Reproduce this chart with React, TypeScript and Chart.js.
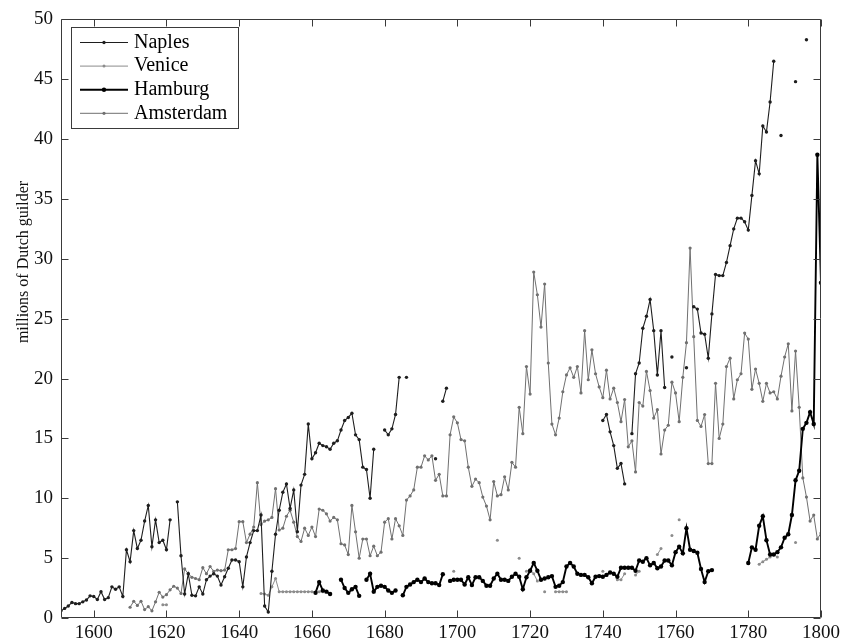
import { useEffect, useRef } from 'react';
import { Chart, registerables } from 'chart.js';

Chart.register(...registerables);

const FONT = '"Liberation Serif", "Times New Roman", Times, serif';

const X_MIN = 1591;
const X_MAX = 1800;
const X_TICKS = [1600, 1620, 1640, 1660, 1680, 1700, 1720, 1740, 1760, 1780, 1800];
const Y_TICKS = [0, 5, 10, 15, 20, 25, 30, 35, 40, 45, 50];
const Y_TITLE = 'millions of Dutch guilder';
const SERIES_NAMES = ['Naples', 'Venice', 'Hamburg', 'Amsterdam'];

// Naples: two stretches of annual values (null = no observation)
const naplesStartA = 1591;
const naplesA: (number | null)[] = [
  0.6, 0.8, 1.0, 1.3, 1.2, 1.2, 1.35, 1.5, 1.85, 1.8, // 1591-1600
  1.55, 2.2, 1.55, 1.7, 2.6, 2.4, 2.6, 1.8, 5.7, 4.7, // 1601-1610
  7.3, 5.8, 6.5, 8.1, 9.4, 5.95, 8.2, 6.3, 6.5, 5.7, // 1611-1620
  8.2, null, 9.7, 5.2, 2.0, 3.7, 1.9, 1.85, 2.6, 2.0, // 1621-1630
  3.2, 3.5, 3.7, 3.5, 2.75, 3.45, 4.15, 4.85, 4.85, 4.7, // 1631-1640
  2.6, 5.1, 6.3, 7.3, 7.3, 8.6, 1.0, 0.5, 3.9, 7.0, // 1641-1650
  9.0, 10.5, 11.2, 9.15, 10.7, 7.2, 11.1, 12.0, 16.2, 13.3, // 1651-1660
  13.8, 14.6, 14.4, 14.3, 14.1, 14.6, 14.8, 15.7, 16.5, 16.75, // 1661-1670
  17.1, 15.3, 14.9, 12.6, 12.4, 10.0, 14.1, null, null, 15.7, // 1671-1680
  15.3, 15.8, 17.0, 20.1, null, 20.1, null, null, null, null, // 1681-1690
  null, null, null, 13.3, null, 18.1, 19.2, // 1691-1697
];
const naplesStartB = 1740;
const naplesB: (number | null)[] = [
  16.5, 17.0, 15.55, 14.4, 12.5, 12.9, 11.2, null, 15.4, 20.4, // 1740-1749
  21.3, 24.2, 25.2, 26.6, 24.0, 20.3, 24.0, 19.25, null, 21.8, // 1750-1759
  null, null, null, 20.9, null, 26.0, 25.8, 23.8, 23.7, 21.7, // 1760-1769
  25.4, 28.7, 28.6, 28.6, 29.7, 31.1, 32.5, 33.4, 33.4, 33.1, // 1770-1779
  32.4, 35.3, 38.2, 37.1, 41.1, 40.6, 43.1, 46.5, null, 40.3, // 1780-1789
  null, null, null, 44.8, null, null, 48.3, // 1790-1796
];

// Venice: scattered observations (consecutive years are joined)
const veniceYears = [
  1619, 1620,
  1646, 1647, 1648, 1649, 1650, 1651, 1652, 1653, 1654, 1655, 1656, 1657, 1658, 1659, 1660, 1661, 1662, 1663, 1664, 1665,
  1699, 1711, 1717, 1719, 1720, 1721, 1722, 1724, 1727, 1728, 1729, 1730,
  1740, 1744, 1745, 1746, 1749, 1750, 1755, 1756, 1759, 1761,
  1783, 1784, 1785, 1786, 1787, 1788, 1793,
];
const veniceValues = [
  1.1, 1.1,
  2.05, 2.0, 1.9, 2.6, 3.3, 2.2, 2.2, 2.2, 2.2, 2.2, 2.2, 2.2, 2.2, 2.2, 2.2, 2.2, 2.2, 2.2, 2.2, 2.05,
  3.9, 6.5, 5.0, 3.9, 4.05, 3.7, 3.1, 2.2, 2.2, 2.2, 2.2, 2.2,
  3.9, 3.2, 3.2, 3.7, 3.6, 3.9, 5.3, 5.8, 6.9, 8.2,
  4.5, 4.7, 4.9, 5.1, 5.3, 5.1, 6.3,
];

// Hamburg
const hamburgStartA = 1661;
const hamburgA: (number | null)[] = [
  2.1, 3.0, 2.3, 2.2, 2.0, null, null, 3.2, 2.5, 2.1, // 1661-1670
  2.4, 2.6, 1.85, null, 3.2, 3.7, 2.2, 2.6, 2.7, 2.6, // 1671-1680
  2.3, 2.1, 2.3, null, 1.9, 2.6, 2.8, 3.0, 3.2, 3.0, // 1681-1690
  3.3, 3.0, 2.9, 2.9, 2.75, 3.65, null, 3.1, 3.2, 3.2, // 1691-1700
  3.2, 2.8, 3.4, 2.75, 3.4, 3.4, 3.1, 2.7, 2.7, 3.3, // 1701-1710
  3.7, 3.2, 3.2, 3.1, 3.45, 3.7, 3.45, 2.4, 3.4, 3.95, // 1711-1720
  4.6, 3.95, 3.2, 3.3, 3.4, 3.5, 2.6, 2.7, 3.0, 4.3, // 1721-1730
  4.6, 4.3, 3.7, 3.6, 3.6, 3.4, 2.9, 3.45, 3.5, 3.45, // 1731-1740
  3.6, 3.8, 3.7, 3.45, 4.2, 4.2, 4.2, 4.2, 3.95, 4.8, // 1741-1750
  4.7, 5.0, 4.4, 4.6, 4.15, 4.3, 4.8, 4.8, 4.4, 5.5, // 1751-1760
  5.95, 5.4, 7.5, 5.7, 5.6, 5.45, 4.1, 3.0, 3.9, 4.0, // 1761-1770
];
const hamburgStartB = 1780;
const hamburgB: (number | null)[] = [
  4.6, 5.9, 5.7, 7.7, 8.5, 6.5, 5.3, 5.3, 5.5, 5.9, // 1780-1789
  6.7, 7.0, 8.6, 11.5, 12.3, 15.8, 16.3, 17.2, 16.2, 38.7, // 1790-1799
  28.0, // 1800
];

// Amsterdam
const amsterdamStart = 1610;
const amsterdam: (number | null)[] = [
  0.9, 1.4, 1.05, 1.4, 0.7, 0.95, 0.6, 1.35, 2.15, 1.75, // 1610-1619
  1.95, 2.35, 2.65, 2.5, 2.05, 4.1, 3.7, 3.4, 3.3, 3.2, // 1620-1629
  4.2, 3.7, 4.3, 3.9, 4.0, 3.95, 4.0, 5.7, 5.7, 5.8, // 1630-1639
  8.05, 8.05, 6.3, 7.0, 7.6, 11.3, 7.8, 8.1, 8.2, 8.4, // 1640-1649
  10.8, 7.35, 7.5, 8.5, 9.0, 8.0, 6.8, 6.4, 7.5, 6.9, // 1650-1659
  7.6, 6.8, 9.1, 9.0, 8.7, 8.1, 8.4, 8.2, 6.2, 6.1, // 1660-1669
  5.3, 9.4, 7.2, 5.0, 6.6, 6.6, 5.2, 6.0, 5.2, 5.5, // 1670-1679
  8.0, 8.3, 6.6, 8.3, 7.7, 6.9, 9.85, 10.2, 10.7, 12.6, // 1680-1689
  12.6, 13.55, 13.2, 13.55, 11.5, 12.0, 10.2, 10.2, 15.3, 16.8, // 1690-1699
  16.3, 14.9, 14.8, 12.6, 11.0, 11.6, 11.3, 10.1, 9.35, 8.2, // 1700-1709
  11.4, 10.2, 10.3, 11.8, 10.7, 13.0, 12.6, 17.6, 15.4, 21.0, // 1710-1719
  18.7, 28.9, 27.0, 24.3, 27.9, 21.3, 16.2, 15.3, 16.7, 18.9, // 1720-1729
  20.3, 20.9, 20.1, 21.0, 18.8, 24.0, 19.9, 22.4, 20.4, 19.3, // 1730-1739
  18.4, 20.7, 18.3, 19.2, 18.0, 16.4, 18.25, 14.3, 14.8, 12.2, // 1740-1749
  18.0, 17.7, 20.6, 19.0, 16.7, 17.4, 13.7, 15.7, 16.1, 19.7, // 1750-1759
  18.8, 16.4, 20.1, 23.0, 30.9, 23.5, 16.5, 16.0, 17.0, 12.9, // 1760-1769
  12.9, 19.6, 15.0, 16.2, 21.0, 21.7, 18.3, 19.9, 20.4, 23.8, // 1770-1779
  23.3, 19.1, 20.8, 19.6, 18.1, 19.6, 18.8, 18.9, 18.3, 20.2, // 1780-1789
  21.8, 22.9, 17.3, 22.3, 17.6, 11.7, 10.1, 8.1, 8.6, 6.6, // 1790-1799
  7.1, // 1800
];

type Pt = { x: number; y: number | null };

function fromStart(start: number, values: (number | null)[]): Pt[] {
  return values.map((v, i) => ({ x: start + i, y: v }));
}

function joinRuns(...runs: Pt[][]): Pt[] {
  const out: Pt[] = [];
  runs.forEach((run, i) => {
    if (i > 0 && run.length) out.push({ x: run[0].x - 0.5, y: null });
    out.push(...run);
  });
  return out;
}

function fromYears(years: number[], values: number[]): Pt[] {
  const out: Pt[] = [];
  years.forEach((yr, i) => {
    if (i > 0 && yr - years[i - 1] > 1) out.push({ x: yr - 0.5, y: null });
    out.push({ x: yr, y: values[i] });
  });
  return out;
}

const STYLE: Record<string, { color: string; width: number; radius: number }> = {
  Naples: { color: '#1e1e1e', width: 1.1, radius: 1.7 },
  Venice: { color: '#8c8c8c', width: 1, radius: 1.5 },
  Hamburg: { color: '#000000', width: 1.9, radius: 2.2 },
  Amsterdam: { color: '#707070', width: 1, radius: 1.6 },
};

const framePlugin = {
  id: 'frame',
  afterDraw(chart: any) {
    const { ctx, chartArea, scales } = chart;
    const { left, right, top, bottom } = chartArea;
    const xs = scales.x;
    const ys = scales.y;
    ctx.save();
    ctx.strokeStyle = '#3a3a3a';
    ctx.lineWidth = 1;
    const L = Math.round(left) + 0.5;
    const R = Math.round(right) - 0.5;
    const T = Math.round(top) + 0.5;
    const B = Math.round(bottom) - 0.5;
    ctx.beginPath();
    ctx.rect(L, T, R - L, B - T);
    X_TICKS.forEach((v) => {
      const px = Math.round(xs.getPixelForValue(v)) + 0.5;
      ctx.moveTo(px, B);
      ctx.lineTo(px, B - 7);
      ctx.moveTo(px, T);
      ctx.lineTo(px, T + 7);
    });
    Y_TICKS.forEach((v) => {
      const py = Math.round(ys.getPixelForValue(v)) + 0.5;
      ctx.moveTo(L, py);
      ctx.lineTo(L + 7, py);
      ctx.moveTo(R, py);
      ctx.lineTo(R - 7, py);
    });
    ctx.stroke();

    // y-axis title
    ctx.save();
    ctx.translate(24, 262);
    ctx.rotate(-Math.PI / 2);
    ctx.fillStyle = '#111';
    ctx.font = `16px ${FONT}`;
    ctx.textAlign = 'center';
    ctx.textBaseline = 'middle';
    ctx.fillText(Y_TITLE, 0, 0);
    ctx.restore();

    // legend box
    const lx = 71, ly = 27, lw = 167, lh = 101;
    ctx.fillStyle = '#ffffff';
    ctx.fillRect(lx, ly, lw, lh);
    ctx.strokeStyle = '#3a3a3a';
    ctx.lineWidth = 1;
    ctx.strokeRect(lx + 0.5, ly + 0.5, lw, lh);
    SERIES_NAMES.forEach((name, i) => {
      const s = STYLE[name];
      const cy = 42.5 + i * 23.6;
      ctx.strokeStyle = s.color;
      ctx.lineWidth = s.width;
      ctx.beginPath();
      ctx.moveTo(80, cy);
      ctx.lineTo(128, cy);
      ctx.stroke();
      ctx.fillStyle = s.color;
      ctx.beginPath();
      ctx.arc(104, cy, s.radius, 0, Math.PI * 2);
      ctx.fill();
      ctx.fillStyle = '#000';
      ctx.font = `20px ${FONT}`;
      ctx.textAlign = 'left';
      ctx.textBaseline = 'middle';
      ctx.fillText(name, 134, cy);
    });
    ctx.restore();
  },
};

export default function App() {
  const ref = useRef<HTMLCanvasElement | null>(null);

  useEffect(() => {
    if (!ref.current) return;
    const dataBy: Record<string, Pt[]> = {
      Naples: joinRuns(fromStart(naplesStartA, naplesA), fromStart(naplesStartB, naplesB)),
      Venice: fromYears(veniceYears, veniceValues),
      Hamburg: joinRuns(fromStart(hamburgStartA, hamburgA), fromStart(hamburgStartB, hamburgB)),
      Amsterdam: fromStart(amsterdamStart, amsterdam),
    };
    // first dataset is painted on top
    const drawOrder = ['Hamburg', 'Naples', 'Venice', 'Amsterdam'];
    const chart = new Chart(ref.current, {
      type: 'line',
      data: {
        datasets: drawOrder.map((name) => ({
          label: name,
          data: dataBy[name] as any,
          borderColor: STYLE[name].color,
          backgroundColor: STYLE[name].color,
          borderWidth: STYLE[name].width,
          pointRadius: STYLE[name].radius,
          pointBorderWidth: 0,
          pointBackgroundColor: STYLE[name].color,
          pointHoverRadius: STYLE[name].radius,
          tension: 0,
          spanGaps: false,
          fill: false,
        })),
      },
      options: {
        animation: false,
        responsive: false,
        devicePixelRatio: 1,
        parsing: true,
        layout: { padding: { left: 0, right: 22, top: 19, bottom: 0 } },
        plugins: {
          legend: { display: false },
          tooltip: { enabled: false },
        },
        scales: {
          x: {
            type: 'linear',
            min: X_MIN,
            max: X_MAX,
            grid: { display: false, drawTicks: false },
            border: { display: false },
            afterBuildTicks: (scale: any) => {
              scale.ticks = X_TICKS.map((v) => ({ value: v }));
            },
            afterFit: (scale: any) => {
              scale.height = 26;
            },
            ticks: {
              autoSkip: false,
              maxRotation: 0,
              padding: 4,
              color: '#111',
              font: { family: FONT, size: 19 },
              callback: (v: any) => String(v),
            },
          },
          y: {
            type: 'linear',
            min: 0,
            max: 50,
            grid: { display: false, drawTicks: false },
            border: { display: false },
            afterBuildTicks: (scale: any) => {
              scale.ticks = Y_TICKS.map((v) => ({ value: v }));
            },
            afterFit: (scale: any) => {
              scale.width = 61;
            },
            ticks: {
              padding: 8,
              color: '#111',
              font: { family: FONT, size: 19 },
              callback: (v: any) => String(v),
            },
          },
        },
      },
      plugins: [framePlugin],
    });
    return () => chart.destroy();
  }, []);

  return (
    <div style={{ position: 'fixed', left: 0, top: 0, width: 844, height: 644, background: '#fff' }}>
      <canvas ref={ref} width={844} height={644} style={{ display: 'block' }} />
    </div>
  );
}
